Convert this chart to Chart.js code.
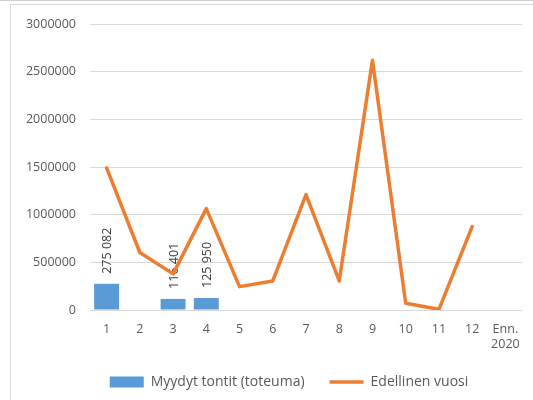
<!DOCTYPE html>
<html>
<head>
<meta charset="utf-8">
<script src="https://cdn.jsdelivr.net/npm/chart.js@4/dist/chart.umd.min.js"></script>
<style>
  html, body { margin: 0; padding: 0; background: #fff; }
  #wrap { position: relative; width: 533px; height: 400px; overflow: hidden; }
  #frame { position: absolute; left: 10px; top: 4px; width: 540px; height: 420px; border: 1px solid #d9d9d9; }
  #topline { position: absolute; left: 0; top: 0; width: 533px; height: 1px; background: #cfcfcf; }
  canvas { position: absolute; left: 0; top: 0; }
</style>
</head>
<body>
<div id="wrap">
  <div id="topline"></div>
  <div id="frame"></div>
  <canvas id="kaavio" width="533" height="400"></canvas>
</div>
<script>
// Kuukaudet + ennuste
const kuukaudet = ['1', '2', '3', '4', '5', '6', '7', '8', '9', '10', '11', '12', ['Enn.', '2020']];
// Myydyt tontit (toteuma)
const toteuma = [275082, null, 116401, 125950, null, null, null, null, null, null, null, null, null];
// Edellinen vuosi
const edellinen = [1490000, 603000, 379000, 1063000, 245000, 305000, 1210000, 305000, 2620000, 70000, 7000, 874000, null];

const harmaa = '#595959';
const fontti = { family: "'Open Sans', 'Noto Sans', sans-serif", size: 12.5 };

// muotoilee luvun välilyönnein: 275 082
const muotoile = (n) => String(n).replace(/\B(?=(\d{3})+(?!\d))/g, ' ');

// Pystyt arvotekstit pylväiden yläpuolelle
const arvoTekstit = {
    id: 'arvoTekstit',
    afterDatasetDraw(chart, args) {
        if (args.index !== 0) return;
        const ctx = chart.ctx;
        ctx.save();
        ctx.fillStyle = '#404040';
        ctx.font = `${fontti.size}px ${fontti.family}`;
        ctx.textAlign = 'left';
        ctx.textBaseline = 'middle';
        args.meta.data.forEach((bar, i) => {
            const v = toteuma[i];
            if (v === null) return;
            ctx.save();
            ctx.translate(bar.x + 1, bar.y - 10);
            ctx.rotate(-Math.PI / 2);
            ctx.fillText(muotoile(v), 0, 0);
            ctx.restore();
        });
        ctx.restore();
    }
};

// selite hieman oikealle kuten alkuperäisessä
const seliteSiirto = {
    id: 'seliteSiirto',
    afterLayout(chart) {
        chart.legend.left += 28;
        chart.legend.right += 28;
    }
};

new Chart(document.getElementById('kaavio'), {
    type: 'bar',
    data: {
        labels: kuukaudet,
        datasets: [
            {
                label: 'Myydyt tontit (toteuma)',
                data: toteuma,
                backgroundColor: '#5B9BD5',
                borderWidth: 0,
                barPercentage: 0.75,
                categoryPercentage: 1,
                pointStyle: 'rect',
                order: 2
            },
            {
                type: 'line',
                label: 'Edellinen vuosi',
                data: edellinen,
                borderColor: '#ED7D31',
                backgroundColor: '#ED7D31',
                borderWidth: 3.5,
                tension: 0,
                pointRadius: 0,
                pointStyle: 'line',
                borderJoinStyle: 'round',
                borderCapStyle: 'round',
                spanGaps: false,
                order: 1
            }
        ]
    },
    options: {
        responsive: false,
        animation: false,
        layout: { padding: { top: 24, right: 11, bottom: 1, left: 0 } },
        scales: {
            x: {
                grid: { display: false },
                border: { display: false },
                ticks: { color: harmaa, font: fontti, padding: 4, maxRotation: 0 },
                afterFit: (s) => { s.height = 40; }
            },
            y: {
                min: 0,
                max: 3000000,
                ticks: { stepSize: 500000, color: harmaa, font: fontti, padding: 14, callback: (v) => String(v) },
                grid: { color: '#d9d9d9', drawTicks: false },
                border: { display: false },
                afterFit: (s) => { s.width = 90; }
            }
        },
        plugins: {
            legend: {
                position: 'bottom',
                labels: {
                    usePointStyle: true,
                    pointStyleWidth: 34,
                    boxHeight: 11,
                    padding: 25,
                    color: harmaa,
                    font: { family: fontti.family, size: 14 },
                    sort: (a, b) => a.datasetIndex - b.datasetIndex
                }
            },
            tooltip: { enabled: false }
        }
    },
    plugins: [arvoTekstit, seliteSiirto]
});
</script>
</body>
</html>
